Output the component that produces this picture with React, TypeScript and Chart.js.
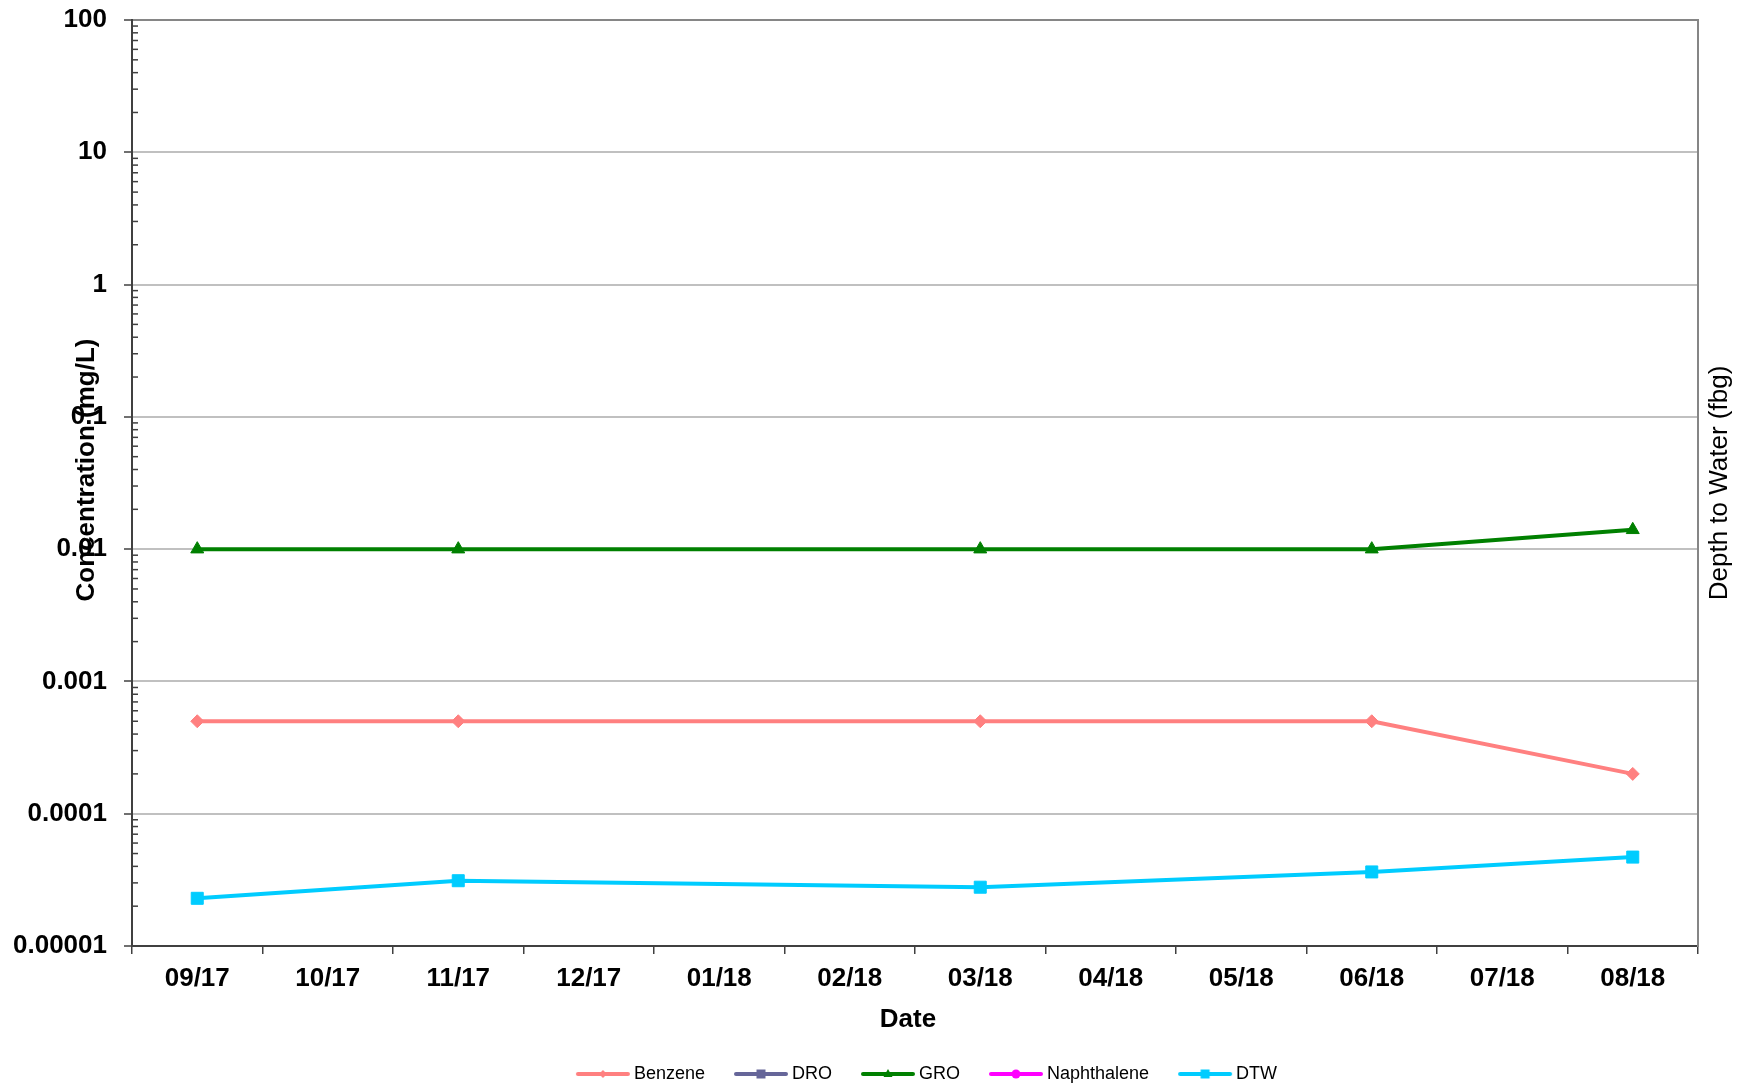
import React, { useEffect, useRef } from 'react';
import { Chart, registerables } from 'chart.js';

Chart.register(...registerables);

const categories = ['09/17', '10/17', '11/17', '12/17', '01/18', '02/18', '03/18', '04/18', '05/18', '06/18', '07/18', '08/18'];
const benzene = [0.0005, null, 0.0005, null, null, null, 0.0005, null, null, 0.0005, null, 0.0002];
const dro = [null, null, null, null, null, null, null, null, null, null, null, null];
const gro = [0.01, null, 0.01, null, null, null, 0.01, null, null, 0.01, null, 0.014];
const naphthalene = [null, null, null, null, null, null, null, null, null, null, null, null];
const dtw = [18.97, null, 18.59, null, null, null, 18.73, null, null, 18.4, null, 18.08];

const yTickValues = [0.00001, 0.0001, 0.001, 0.01, 0.1, 1, 10, 100];
const yTickLabels = ['0.00001', '0.0001', '0.001', '0.01', '0.1', '1', '10', '100'];
const minorMultipliers = [2, 3, 4, 5, 6, 7, 8, 9];
const decadeExponents = [-5, -4, -3, -2, -1, 0, 1];

const xTitle = 'Date';
const yTitle = 'Concentration (mg/L)';
const y2Title = 'Depth to Water (fbg)';

const FONT = '"Liberation Sans", Arial, Helvetica, sans-serif';

function makeIcon(color: string, shape: string): HTMLCanvasElement {
  const c = document.createElement('canvas');
  c.width = 56;
  c.height = 14;
  const g = c.getContext('2d')!;
  g.strokeStyle = color;
  g.fillStyle = color;
  g.lineWidth = 4;
  g.lineCap = 'round';
  g.beginPath();
  g.moveTo(3, 7);
  g.lineTo(53, 7);
  g.stroke();
  const cx = 28, cy = 7;
  g.beginPath();
  if (shape === 'diamond') {
    g.moveTo(cx, cy - 4);
    g.lineTo(cx + 4, cy);
    g.lineTo(cx, cy + 4);
    g.lineTo(cx - 4, cy);
    g.closePath();
  } else if (shape === 'square') {
    g.rect(cx - 4.5, cy - 4.5, 9, 9);
  } else if (shape === 'triangle') {
    g.moveTo(cx, cy - 5);
    g.lineTo(cx + 4.5, cy + 3);
    g.lineTo(cx - 4.5, cy + 3);
    g.closePath();
  } else {
    g.arc(cx, cy, 4.5, 0, Math.PI * 2);
  }
  g.fill();
  return c;
}

const extrasPlugin = {
  id: 'extras',
  afterDraw(chart: any) {
    const ctx = chart.ctx;
    const y = chart.scales.y;
    const area = chart.chartArea;
    ctx.save();
    ctx.strokeStyle = '#404040';
    ctx.lineWidth = 1.5;
    for (const e of decadeExponents) {
      for (const m of minorMultipliers) {
        const py = y.getPixelForValue(m * Math.pow(10, e));
        ctx.beginPath();
        ctx.moveTo(area.left, py);
        ctx.lineTo(area.left + 6, py);
        ctx.stroke();
      }
    }
    ctx.fillStyle = '#000';
    ctx.textAlign = 'center';
    ctx.textBaseline = 'middle';
    ctx.font = `bold 26px ${FONT}`;
    ctx.fillText(xTitle, 908, 1020);
    ctx.save();
    ctx.translate(87, 470);
    ctx.rotate(-Math.PI / 2);
    ctx.font = `bold 26px ${FONT}`;
    ctx.fillText(yTitle, 0, 0);
    ctx.restore();
    ctx.save();
    ctx.translate(1720, 483);
    ctx.rotate(-Math.PI / 2);
    ctx.font = `26px ${FONT}`;
    ctx.fillText(y2Title, 0, 0);
    ctx.restore();
    ctx.restore();
  },
};

export default function App() {
  const ref = useRef<HTMLCanvasElement>(null);
  useEffect(() => {
    const canvas = ref.current!;
    const series = [
      { label: 'Benzene', data: benzene, color: '#FF8080', style: 'rectRot', r: 6.5, icon: 'diamond', axis: 'y' },
      { label: 'DRO', data: dro, color: '#666699', style: 'rect', r: 7, icon: 'square', axis: 'y' },
      { label: 'GRO', data: gro, color: '#008000', style: 'triangle', r: 7.5, icon: 'triangle', axis: 'y' },
      { label: 'Naphthalene', data: naphthalene, color: '#FF00FF', style: 'circle', r: 5, icon: 'circle', axis: 'y' },
      { label: 'DTW', data: dtw, color: '#00CCFF', style: 'rect', r: 8.5, icon: 'square', axis: 'y2' },
    ];
    const icons = series.map((s) => makeIcon(s.color, s.icon));
    const chart = new Chart(canvas, {
      type: 'line',
      data: {
        labels: categories,
        datasets: series.map((s) => ({
          label: s.label,
          data: s.data as any,
          borderColor: s.color,
          backgroundColor: s.color,
          borderWidth: 4,
          pointStyle: s.style as any,
          pointRadius: s.r,
          pointBackgroundColor: s.color,
          pointBorderColor: s.color,
          pointBorderWidth: 1,
          spanGaps: true,
          tension: 0,
          yAxisID: s.axis,
        })),
      },
      options: {
        responsive: false,
        maintainAspectRatio: false,
        animation: false,
        layout: { autoPadding: false, padding: { left: 14, right: -103, top: 20, bottom: -5 } },
        plugins: {
          tooltip: { enabled: false },
          legend: {
            position: 'bottom',
            labels: {
              usePointStyle: true,
              pointStyleWidth: 44,
              padding: 34,
              color: '#000',
              font: { family: FONT, size: 18 },
              generateLabels: (ch: any) =>
                ch.data.datasets.map((ds: any, i: number) => ({
                  text: ds.label,
                  pointStyle: icons[i],
                  fillStyle: series[i].color,
                  strokeStyle: series[i].color,
                  lineWidth: 0,
                  hidden: false,
                  datasetIndex: i,
                  fontColor: '#000',
                })),
            },
          },
        },
        scales: {
          x: {
            type: 'category',
            offset: true,
            grid: { offset: true, drawOnChartArea: false, drawTicks: true, tickLength: 8, color: '#404040', lineWidth: 1.5 },
            border: { display: true, color: '#404040', width: 2 },
            ticks: { font: { family: FONT, size: 26, weight: 'bold' }, color: '#000', padding: 9, maxRotation: 0, autoSkip: false },
            title: { display: false, text: xTitle },
            afterFit: (s: any) => { s.height = 85; },
          },
          y: {
            type: 'logarithmic',
            position: 'left',
            min: 0.00001,
            max: 100,
            afterBuildTicks: (s: any) => { s.ticks = yTickValues.map((v) => ({ value: v, major: true })); },
            ticks: {
              callback: (_v: any, i: number) => yTickLabels[i],
              font: { family: FONT, size: 26, weight: 'bold' },
              color: '#000',
              padding: 17,
              autoSkip: false,
            },
            grid: {
              color: (c: any) => (c.tick && c.tick.value === 100 ? '#868686' : '#c0c0c0'),
              lineWidth: 2,
              tickLength: 8,
              tickColor: '#404040',
              tickWidth: 1.5,
              drawTicks: true,
            },
            border: { display: true, color: '#404040', width: 2 },
            afterFit: (s: any) => { s.width = 118; s.paddingTop = 0; s.paddingBottom = 0; },
          },
          y2: {
            type: 'linear',
            position: 'right',
            reverse: true,
            min: 0,
            max: 20,
            ticks: { display: false },
            grid: { display: false },
            border: { display: true, color: '#868686', width: 2 },
            afterFit: (s: any) => { s.width = 146; s.paddingTop = 0; s.paddingBottom = 0; },
          },
        },
      } as any,
      plugins: [extrasPlugin],
    });
    return () => chart.destroy();
  }, []);
  return (
    <div style={{ position: 'fixed', left: 0, top: 0, width: 1741, height: 1088, background: '#fff' }}>
      <canvas ref={ref} width={1741} height={1088} style={{ display: 'block', width: 1741, height: 1088 }} />
    </div>
  );
}
